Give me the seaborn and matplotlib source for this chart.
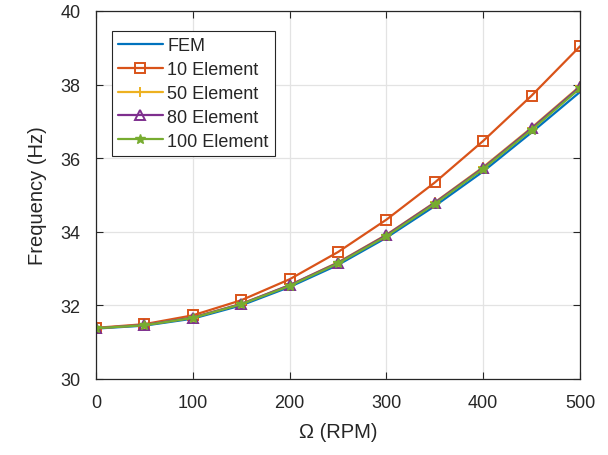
# natural frequency vs rotation speed, FEM against beam element models
import pandas as pd
import matplotlib
matplotlib.use('Agg')
import matplotlib.pyplot as plt
import seaborn as sns

rpm = [0, 50, 100, 150, 200, 250, 300, 350, 400, 450, 500]

fem = [31.37, 31.45, 31.64, 32.00, 32.50, 33.10, 33.84, 34.70, 35.64, 36.70, 37.80]
elem10 = [31.39, 31.49, 31.73, 32.14, 32.71, 33.45, 34.33, 35.34, 36.47, 37.70, 39.04]
elem50 = [31.38, 31.47, 31.67, 32.04, 32.55, 33.17, 33.92, 34.80, 35.76, 36.83, 37.96]
elem80 = [31.38, 31.47, 31.67, 32.04, 32.55, 33.16, 33.91, 34.79, 35.74, 36.81, 37.94]
elem100 = [31.38, 31.46, 31.66, 32.03, 32.53, 33.14, 33.88, 34.76, 35.71, 36.77, 37.90]

series = {
    'FEM': fem,
    '10 Element': elem10,
    '50 Element': elem50,
    '80 Element': elem80,
    '100 Element': elem100,
}
colors = ['#0072BD', '#D95319', '#EDB120', '#7E2F8E', '#77AC30']
markers = [None, 's', '+', '^', '*']

sns.set_style('ticks')
plt.rcParams['font.family'] = ['Liberation Sans', 'DejaVu Sans']
plt.rcParams['text.color'] = '#262626'

fig = plt.figure(figsize=(6.08, 4.56), dpi=100)
ax = fig.add_axes([96 / 608, 76 / 456, 484 / 608, 368 / 456])

for (name, vals), c, m in zip(series.items(), colors, markers):
    df = pd.DataFrame({'rpm': rpm, 'freq': vals})
    kw = {}
    if m == '*':
        kw = dict(marker=m, markersize=7, markerfacecolor=c, markeredgewidth=1.0)
    elif m:
        kw = dict(marker=m, markersize=6.5, markerfacecolor='none', markeredgewidth=1.4)
    sns.lineplot(data=df, x='rpm', y='freq', ax=ax, color=c, linewidth=1.6,
                 label=name, markeredgecolor=c, **kw)

ax.set_xlim(0, 500)
ax.set_ylim(30, 40)
ax.set_xticks(range(0, 501, 100))
ax.set_yticks(range(30, 41, 2))
ax.grid(True, color='#e3e3e3', linewidth=0.9)
ax.tick_params(direction='in', top=True, right=True, labelsize=13, length=5, width=0.8,
               colors='#262626', pad=11)
for s in ax.spines.values():
    s.set_linewidth(0.9)
    s.set_color('#262626')
ax.set_xlabel('Ω (RPM)', fontsize=14.5, labelpad=8)
ax.set_ylabel('Frequency (Hz)', fontsize=14.5, labelpad=10)

leg = ax.legend(loc='upper left', bbox_to_anchor=(0.033, 0.946), fontsize=13,
                frameon=True, fancybox=False, edgecolor='#262626', framealpha=1,
                handlelength=2.45, borderpad=0.35, labelspacing=0.38, handletextpad=0.25,
                borderaxespad=0)
leg.get_frame().set_linewidth(0.8)

fig.savefig('out.png', dpi=100)
